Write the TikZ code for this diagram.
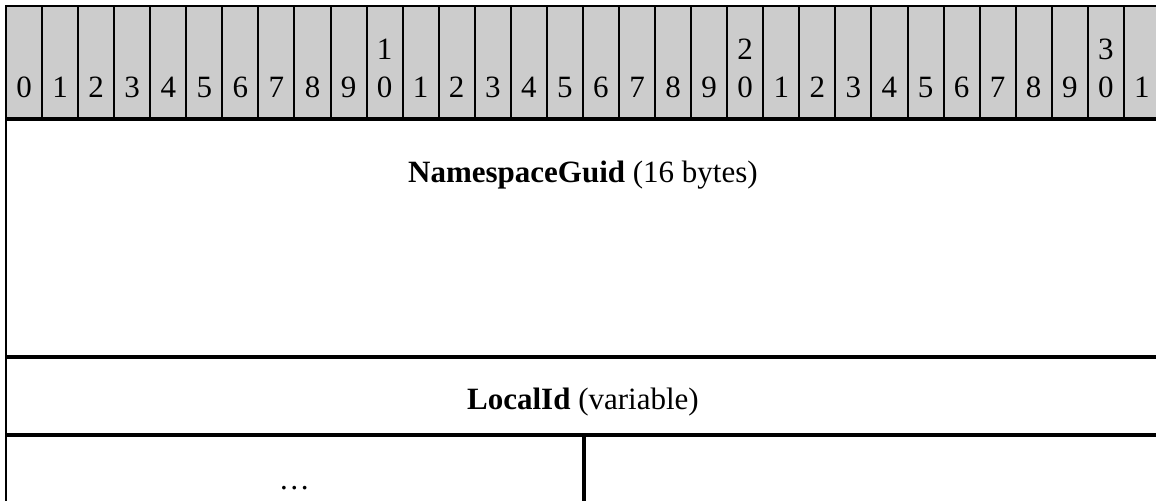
\documentclass[tikz,border=0pt]{standalone}
\usepackage{fontspec}
\setmainfont{Liberation Serif}
\usepackage{tikz}
\usetikzlibrary{positioning,matrix}

% two stacked digits for the bit numbers 10, 20, 30
\newcommand\twodig[2]{\vbox{\hbox{#1}\hbox{#2}}}

\begin{document}
\begin{tikzpicture}[font=\fontsize{15.5}{19}\selectfont, line width=1pt,
		bitrow/.style={matrix of nodes, inner sep=0pt, nodes={draw, fill=black!20,
		minimum width=18.03pt, minimum height=56pt, inner sep=0pt, text height=40pt, text depth=4pt},
		column sep=-\pgflinewidth, nodes in empty cells},
		field/.style={draw, inner sep=0pt, minimum width=577pt}]
		\useasboundingbox (0,0) rectangle (578pt,-250.5pt);
		\matrix[bitrow, anchor=north west] (bits) at (2pt,-2pt) {
				0& 1& 2& 3& 4& 5& 6& 7& 8& 9& \twodig{1}{0}& 1& 2& 3& 4& 5& 6& 7& 8& 9& \twodig{2}{0}& 1& 2& 3& 4& 5& 6& 7& 8& 9& \twodig{3}{0}& 1\\};
		\node[field, minimum height=118pt, text height=11pt, text depth=66pt, below=-0.5pt of bits] (guid)
			{\textbf{NamespaceGuid} (16 bytes)};
		\node[field, minimum height=38pt, text height=14pt, text depth=0pt, below=0pt of guid] (localid)
			{\textbf{LocalId} (variable)};
		\node[field, minimum width=288.5pt, minimum height=48pt, text height=6pt, text depth=0pt,
			below right=0pt and 0pt of localid.south west] (more) {…};
		\node[field, minimum width=288.5pt, minimum height=48pt, right=0pt of more] (rest) {};
	\end{tikzpicture}
\end{document}
